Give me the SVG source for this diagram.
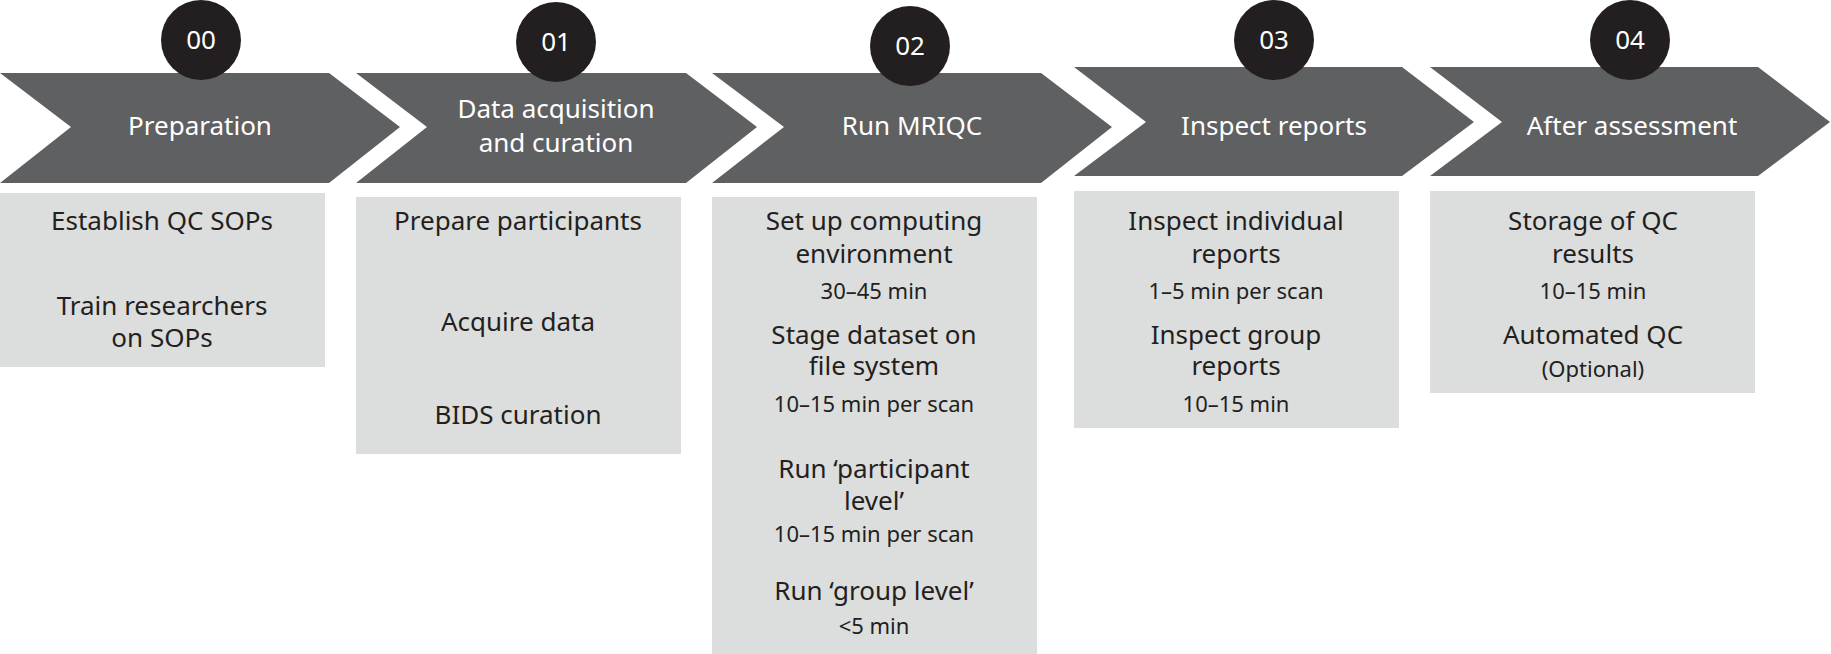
<svg xmlns="http://www.w3.org/2000/svg" width="1831" height="654" viewBox="0 0 1831 654">
<style>
.chev{fill:#5f6062}.circ{fill:#231f20}.box{fill:#dcdddd}
text{font-family:"Noto Sans","Liberation Sans",sans-serif;text-anchor:middle}
.h{fill:#fff;font-size:26px}.n{fill:#fff;font-size:26px}
.b{fill:#231f20;font-size:26px}.s{fill:#231f20;font-size:22px}
</style>
<rect width="1831" height="654" fill="#fff"/>
<g id="connectors"></g>
<g id="step00">
<polygon class="chev" points="0,73 329,73 400,127 329,183 0,183 71,127"/>
<circle class="circ" cx="201" cy="40" r="40"/>
<text class="n" x="201" y="49">00</text>
<text class="h" x="200" y="135">Preparation</text>
<rect class="box" x="0" y="193" width="325" height="174"/>
<text class="b" x="162" y="230">Establish QC SOPs</text>
<text class="b" x="162" y="315">Train researchers</text>
<text class="b" x="162" y="347">on SOPs</text>
</g>
<g id="step01">
<polygon class="chev" points="356,73 686,73 757,127 686,183 356,183 427,127"/>
<circle class="circ" cx="556" cy="42" r="40"/>
<text class="n" x="556" y="51">01</text>
<text class="h" x="556" y="118">Data acquisition</text>
<text class="h" x="556" y="152">and curation</text>
<rect class="box" x="356" y="197" width="325" height="257"/>
<text class="b" x="518" y="230">Prepare participants</text>
<text class="b" x="518" y="331">Acquire data</text>
<text class="b" x="518" y="424">BIDS curation</text>
</g>
<g id="step02">
<polygon class="chev" points="712,73 1041,73 1112,127 1041,183 712,183 784,127"/>
<circle class="circ" cx="910" cy="46" r="40"/>
<text class="n" x="910" y="55">02</text>
<text class="h" x="912" y="135">Run MRIQC</text>
<rect class="box" x="712" y="197" width="325" height="457"/>
<text class="b" x="874" y="230">Set up computing</text>
<text class="b" x="874" y="263">environment</text>
<text class="s" x="874" y="299">30–45 min</text>
<text class="b" x="874" y="344">Stage dataset on</text>
<text class="b" x="874" y="375">file system</text>
<text class="s" x="874" y="412">10–15 min per scan</text>
<text class="b" x="874" y="478">Run ‘participant</text>
<text class="b" x="874" y="510">level’</text>
<text class="s" x="874" y="542">10–15 min per scan</text>
<text class="b" x="874" y="600">Run ‘group level’</text>
<text class="s" x="874" y="634">&lt;5 min</text>
</g>
<g id="step03">
<polygon class="chev" points="1074,67 1402,67 1474,122 1402,176 1074,176 1146,122"/>
<circle class="circ" cx="1274" cy="40" r="40"/>
<text class="n" x="1274" y="49">03</text>
<text class="h" x="1274" y="135">Inspect reports</text>
<rect class="box" x="1074" y="191" width="325" height="237"/>
<text class="b" x="1236" y="230">Inspect individual</text>
<text class="b" x="1236" y="263">reports</text>
<text class="s" x="1236" y="299">1–5 min per scan</text>
<text class="b" x="1236" y="344">Inspect group</text>
<text class="b" x="1236" y="375">reports</text>
<text class="s" x="1236" y="412">10–15 min</text>
</g>
<g id="step04">
<polygon class="chev" points="1430,67 1758,67 1830,122 1758,176 1430,176 1502,122"/>
<circle class="circ" cx="1630" cy="40" r="40"/>
<text class="n" x="1630" y="49">04</text>
<text class="h" x="1632" y="135">After assessment</text>
<rect class="box" x="1430" y="191" width="325" height="202"/>
<text class="b" x="1593" y="230">Storage of QC</text>
<text class="b" x="1593" y="263">results</text>
<text class="s" x="1593" y="299">10–15 min</text>
<text class="b" x="1593" y="344">Automated QC</text>
<text class="s" x="1593" y="377">(Optional)</text>
</g>
</svg>
